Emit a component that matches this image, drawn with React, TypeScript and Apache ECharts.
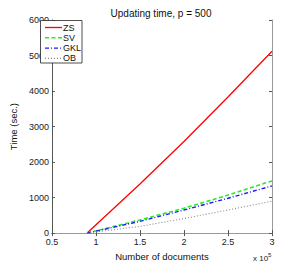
import React, { useEffect, useRef } from "react";
import * as echarts from "echarts";

const xDocs = [0.9, 1.5, 2.0, 2.5, 3.0]; // x 10^5 documents
const zsTime = [0, 1380, 2580, 3830, 5120];
const svTime = [0, 370, 700, 1070, 1470];
const gklTime = [0, 330, 650, 980, 1330];
const obTime = [0, 190, 410, 650, 900];
const seriesNames = ["ZS", "SV", "GKL", "OB"];
const xTicks = [0.5, 1, 1.5, 2, 2.5, 3];
const yTicks = [0, 1000, 2000, 3000, 4000, 5000, 6000];

const FONT = "Liberation Sans, Arial, sans-serif";

const styles = [
  { color: "#ff0000", width: 1.3, dash: null as number[] | null },
  { color: "#22ee22", width: 1.6, dash: [4, 2.5] },
  { color: "#1a1aff", width: 1.4, dash: [4, 2, 1, 2] },
  { color: "#888888", width: 1.1, dash: [1, 2] },
];

export default function App() {
  const ref = useRef<HTMLDivElement>(null);
  useEffect(() => {
    const chart = echarts.init(ref.current!, undefined, { renderer: "svg" });
    const pairs = (ys: number[]) => xDocs.map((x, i) => [x, ys[i]]);
    const allData = [zsTime, svTime, gklTime, obTime];
    const axisCommon = {
      type: "value" as const,
      axisLine: { show: true, lineStyle: { color: "#555", width: 1 } },
      axisTick: { show: true, inside: true, length: 3, lineStyle: { color: "#555" } },
      splitLine: { show: false },
    };
    const fmtX = (v: number) => {
      const m = xTicks.find((t) => Math.abs(t - v) < 1e-9);
      return m === undefined ? "" : String(m);
    };
    const legendX = 40.5;
    const legendY = 20.5;
    const rowH = 10.3;
    const legendItems: any[] = [
      {
        type: "rect",
        shape: { x: legendX, y: legendY, width: 41.5, height: 42.5 },
        style: { fill: "#fff", stroke: "#222", lineWidth: 0.8 },
        z: 100,
      },
    ];
    seriesNames.forEach((name, i) => {
      const cy = legendY + 7 + i * rowH;
      const s = styles[i];
      legendItems.push({
        type: "line",
        shape: { x1: legendX + 4.5, y1: cy, x2: legendX + 21.5, y2: cy },
        style: { stroke: s.color, lineWidth: s.width, lineDash: s.dash || undefined },
        z: 101,
      });
      legendItems.push({
        type: "text",
        x: legendX + 22.5,
        y: cy,
        style: {
          text: name,
          fontSize: 9,
          fill: "#111",
          fontFamily: FONT,
          verticalAlign: "middle",
          align: "left",
        },
        z: 101,
      });
    });
    chart.setOption({
      animation: false,
      backgroundColor: "#fff",
      textStyle: { fontFamily: FONT },
      title: {
        text: "Updating time, p = 500",
        left: 156,
        textAlign: "center",
        top: 3,
        textStyle: { fontSize: 10, fontWeight: "normal", color: "#111", fontFamily: FONT },
      },
      grid: { left: 40, right: 28, top: 20, bottom: 30 },
      xAxis: [
        {
          ...axisCommon,
          min: 0.5,
          max: 3,
          interval: 0.5,
          position: "bottom",
          axisLabel: { fontSize: 9, color: "#222", margin: 4, formatter: fmtX, fontFamily: FONT },
          name: "Number of documents",
          nameLocation: "middle",
          nameGap: 12,
          nameTextStyle: { fontSize: 9.5, color: "#111", verticalAlign: "top", fontFamily: FONT },
        },
        {
          ...axisCommon,
          min: 0.5,
          max: 3,
          interval: 0.5,
          position: "top",
          axisLine: { show: true, lineStyle: { color: "#999", width: 1 } },
          axisLabel: { show: false },
        },
      ],
      yAxis: [
        {
          ...axisCommon,
          min: 0,
          max: 6000,
          interval: 1000,
          position: "left",
          axisLabel: {
            fontSize: 9,
            color: "#222",
            margin: 3,
            fontFamily: FONT,
            formatter: (v: number) => (yTicks.includes(v) ? String(v) : ""),
          },
          name: "Time (sec.)",
          nameLocation: "middle",
          nameGap: 27,
          nameTextStyle: { fontSize: 9.5, color: "#111", fontFamily: FONT },
        },
        {
          ...axisCommon,
          min: 0,
          max: 6000,
          interval: 1000,
          position: "right",
          axisLine: { show: true, lineStyle: { color: "#999", width: 1 } },
          axisLabel: { show: false },
        },
      ],
      graphic: [
        ...legendItems,
        {
          type: "text",
          x: 253,
          y: 252,
          style: {
            text: "x 10{s|5}",
            fontSize: 8,
            fill: "#222",
            fontFamily: FONT,
            rich: { s: { fontSize: 6, verticalAlign: "top", padding: [0, 0, 6, 0], fill: "#222" } },
          },
        },
      ],
      series: seriesNames.map((name, i) => ({
        name,
        type: "line",
        data: pairs(allData[i]),
        showSymbol: false,
        symbol: "none",
        lineStyle: {
          color: styles[i].color,
          width: styles[i].width,
          type: styles[i].dash || "solid",
        },
        itemStyle: { color: styles[i].color },
      })),
    });
    return () => chart.dispose();
  }, []);
  return <div ref={ref} style={{ width: 300, height: 266, position: "absolute", left: 0, top: 0 }} />;
}
